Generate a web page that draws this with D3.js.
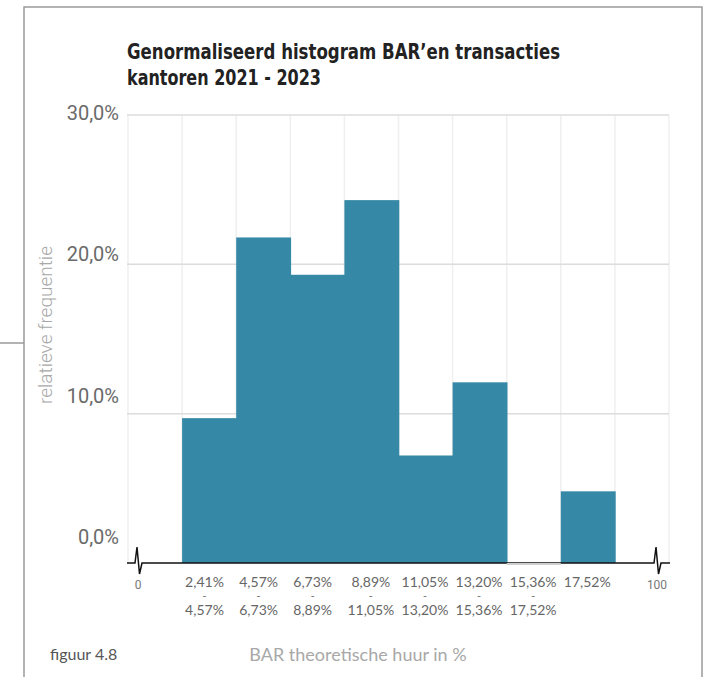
<!DOCTYPE html>
<html>
<head>
<meta charset="utf-8">
<script src="https://cdn.jsdelivr.net/npm/d3@7"></script>
<style>
  html, body { margin: 0; padding: 0; background: #fff; }
  svg { display: block; }
</style>
</head>
<body>
<svg id="chart" width="712" height="677"></svg>
<script>
// Histogram classes (lower / upper bound) and the share of transactions per class (%)
const binFrom = ["2,41%", "4,57%", "6,73%", "8,89%", "11,05%", "13,20%", "15,36%", "17,52%"];
const binTo   = ["4,57%", "6,73%", "8,89%", "11,05%", "13,20%", "15,36%", "17,52%", ""];
const shares  = [9.7, 21.8, 19.3, 24.3, 7.2, 12.1, 0, 4.8];
const yTicks  = [0, 10, 20, 30];
const axisEnds = ["0", "100"];
const titleLines = ["Genormaliseerd histogram BAR\u2019en transacties", "kantoren 2021 - 2023"];
const yTitle = "relatieve frequentie";
const xTitle = "BAR theoretische huur in %";
const figLabel = "figuur 4.8";

const svg = d3.select("#chart");
const barColor = "#3689a6";

// Outer frame
svg.append("path")
  .attr("d", "M24,680V7H702V680 M0,343H24")
  .attr("fill", "none").attr("stroke", "#9a9a9a").attr("stroke-width", 1.5);

// Scales: one empty slot at each end of the broken axis
const x = d3.scaleBand()
  .domain(["lo", ...binFrom, "hi"])
  .range([128, 669])
  .paddingInner(0).paddingOuter(0);
const y = d3.scaleLinear().domain([0, 30]).range([563, 115]);
// tick labels sit a little above their gridlines, drifting more toward the baseline
const yLabel = d3.scaleLinear().domain([0, 30]).range([y(0) - 26, y(30) - 2]);

// Title
const title = svg.append("g").attr("font-family", "'Liberation Sans Narrow', 'DejaVu Sans Condensed', 'Roboto', sans-serif")
  .attr("font-weight", 700).attr("font-size", 21).attr("fill", "#222");
const titleWidths = [433, 194];
titleLines.forEach((t, i) => {
  const el = title.append("text").attr("x", 127).attr("y", 59 + i * 26).text(t);
  const w = el.node().getComputedTextLength();
  if (Math.abs(w - titleWidths[i]) > 4) {
    el.attr("textLength", titleWidths[i]).attr("lengthAdjust", "spacingAndGlyphs");
  }
});

// Vertical gridlines on the class boundaries
const bounds = x.domain().map(d => x(d)).concat([x.range()[1]]);
svg.append("g").selectAll("line").data(bounds).join("line")
  .attr("x1", d => d).attr("x2", d => d)
  .attr("y1", y(30)).attr("y2", y(0))
  .attr("stroke", "#efefef").attr("stroke-width", 1.5);

// Horizontal gridlines
svg.append("g").selectAll("line").data(yTicks.filter(v => v > 0)).join("line")
  .attr("x1", x.range()[0] - 1).attr("x2", x.range()[1])
  .attr("y1", d => y(d)).attr("y2", d => y(d))
  .attr("stroke", "#dcdcdc").attr("stroke-width", 1.5);

// Y tick labels
svg.append("g").selectAll("text").data(yTicks).join("text")
  .attr("x", 119).attr("y", d => yLabel(d) + 7)
  .attr("text-anchor", "end")
  .attr("font-family", "Roboto, sans-serif").attr("font-size", 20).attr("fill", "#6a6a6a")
  .text(d => d.toFixed(1).replace(".", ",") + "%");

// Bars (slightly widened so neighbouring bars join without a seam)
svg.append("g").selectAll("rect").data(shares.map((v, i) => ({ k: binFrom[i], v })))
  .join("rect")
  .attr("x", d => x(d.k)).attr("width", x.bandwidth() + 0.8)
  .attr("y", d => y(d.v)).attr("height", d => y(0) - y(d.v))
  .attr("fill", barColor);

// Broken baseline
const x0 = x.range()[0], x1 = x.range()[1];
const breaks = [x0 + 10, x1 - 12];
const b = d3.path();
b.moveTo(x0 - 1, y(0));
breaks.forEach(bx => {
  b.lineTo(bx - 3, y(0));
  b.lineTo(bx - 1, y(0) - 16);
  b.lineTo(bx + 1.5, y(0) + 11);
  b.lineTo(bx + 4, y(0));
});
b.lineTo(x1 + 1, y(0));
svg.append("path").attr("d", b.toString())
  .attr("fill", "none").attr("stroke", "#111").attr("stroke-width", 1.5);

// Empty classes show a grey zero line
svg.append("g").selectAll("line").data(shares.map((v, i) => ({ k: binFrom[i], v })).filter(d => d.v === 0))
  .join("line")
  .attr("x1", d => x(d.k)).attr("x2", d => x(d.k) + x.bandwidth())
  .attr("y1", y(0) + 1).attr("y2", y(0) + 1)
  .attr("stroke", "#cfcfcf").attr("stroke-width", 2);

// Axis end labels
svg.append("g").selectAll("text").data(axisEnds).join("text")
  .attr("x", (d, i) => breaks[i]).attr("y", 589)
  .attr("text-anchor", "middle")
  .attr("font-family", "Roboto, sans-serif").attr("font-size", 12).attr("fill", "#777")
  .text(d => d);

// Class labels: "from", a small separator dash, "to"
const cl = svg.append("g").attr("font-family", "Lato, sans-serif").attr("fill", "#666");
binFrom.forEach((lo, i) => {
  const g = cl.append("g");
  g.append("text").attr("y", 587).attr("font-size", 14).attr("text-anchor", "middle").text(lo);
  if (binTo[i]) {
    g.append("text").attr("y", 598.5).attr("font-size", 8).attr("font-weight", 700)
      .attr("text-anchor", "middle")
      .attr("textLength", 4).attr("lengthAdjust", "spacingAndGlyphs")
      .text("-");
    g.append("text").attr("y", 615).attr("font-size", 14).attr("text-anchor", "middle").text(binTo[i]);
  }
  const w = g.node().getBBox().width;
  g.attr("transform", `translate(${x(lo) + 3 + w / 2},0)`);
});

// Axis titles and figure number
svg.append("text")
  .attr("transform", "translate(52,325) rotate(-90)")
  .attr("text-anchor", "middle")
  .attr("font-family", "Roboto, sans-serif").attr("font-weight", 300)
  .attr("font-size", 19).attr("fill", "#a8a8a8")
  .text(yTitle);

svg.append("text")
  .attr("x", 358).attr("y", 661).attr("text-anchor", "middle")
  .attr("font-family", "Lato, sans-serif").attr("font-size", 18).attr("fill", "#a8a8a8")
  .text(xTitle);

svg.append("text")
  .attr("x", 50).attr("y", 660)
  .attr("font-family", "Lato, sans-serif").attr("font-size", 16).attr("fill", "#555")
  .text(figLabel);
</script>
</body>
</html>
